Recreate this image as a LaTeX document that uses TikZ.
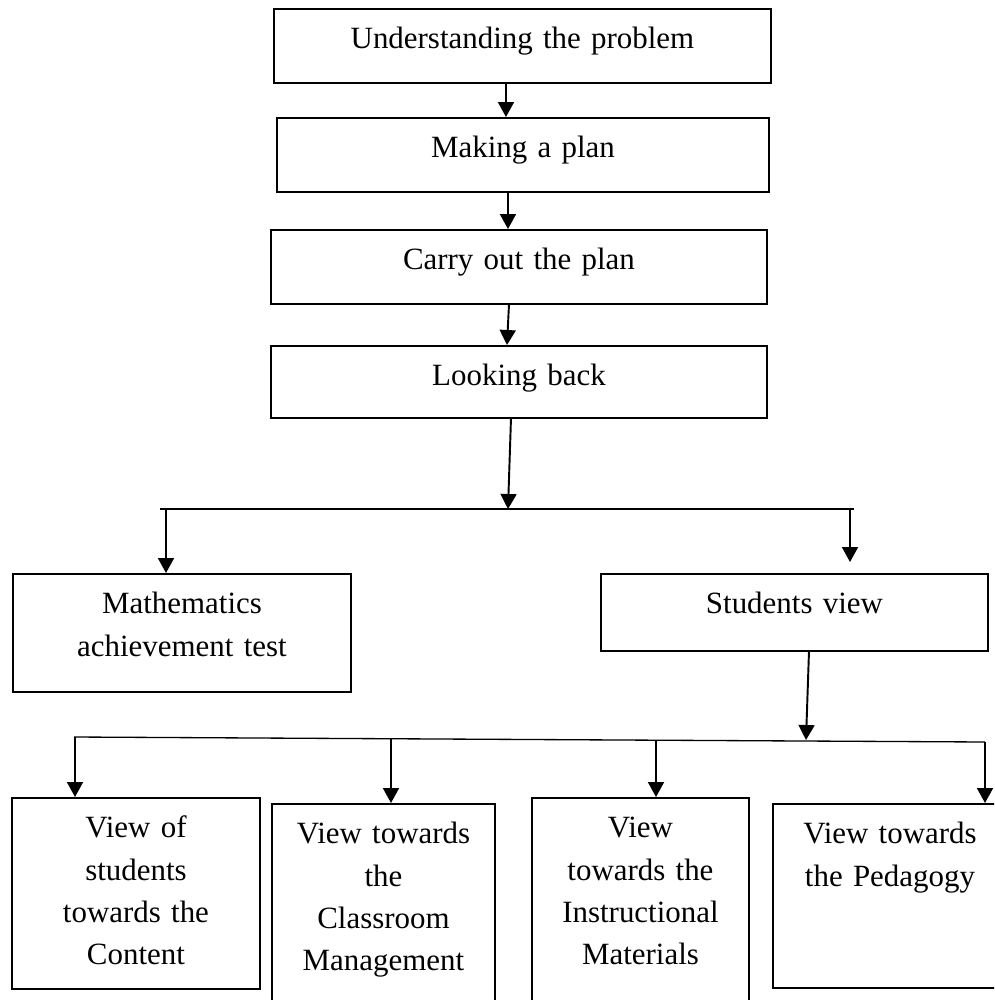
\documentclass[tikz,border=0pt]{standalone}
\usepackage{fontspec}
\setmainfont{Liberation Serif}
\usetikzlibrary{arrows.meta}
\tikzset{%
    blk/.style={draw,line width=1.1pt,inner sep=0pt,align=center,anchor=north west,
        text height=0.8cm,font=\fontsize{17.6}{24}\selectfont}
}

\begin{document}
\begin{tikzpicture}[
                arr/.style={line width=1.1pt,-{Triangle[width=0.32cm,length=0.3cm]}},
                bar/.style={line width=0.75pt}
            ]
            \useasboundingbox (0,0) rectangle (19.88,-20);
            \clip (0,0) rectangle (19.88,-20);

            \node[blk,text width=9.94cm,text depth=0.68cm] (und) at (5.46,-0.16) {Understanding the problem};
            \node[blk,text width=9.84cm,text depth=0.68cm] (mak) at (5.52,-2.34) {Making a plan};
            \node[blk,text width=9.92cm,text depth=0.68cm] (car) at (5.40,-4.58) {Carry out the plan};
            \node[blk,text width=9.92cm,text depth=0.64cm] (lok) at (5.40,-6.90) {Looking back};
            \node[blk,text width=6.76cm,text depth=1.56cm] (mat) at (0.24,-11.46) {Mathematics\\achievement test};
            \node[blk,text width=7.74cm,text depth=0.74cm] (stu) at (12.00,-11.46) {Students view};
            \node[blk,text width=4.96cm,text depth=3.02cm] (vc) at (0.22,-15.94) {View of\\students\\towards the\\Content};
            \node[blk,text width=4.46cm,text depth=3.34cm] (vm) at (5.42,-16.06) {View towards\\the\\Classroom\\Management};
            \node[blk,text width=4.34cm,text depth=3.46cm] (vi) at (10.62,-15.94) {View\\towards the\\Instructional\\Materials};
            \node[blk,text width=4.68cm,text depth=2.88cm] (vp) at (15.44,-16.06) {View towards\\the Pedagogy};

            \coordinate (l1) at (3.20,-10.18);
            \coordinate (r1) at (17.08,-10.18);
            \coordinate (j1) at (10.16,-10.18);
            \coordinate (d1) at (3.32,-10.18);
            \coordinate (d2) at (17.00,-10.18);
            \coordinate (e2) at (17.00,-11.24);
            \coordinate (l2) at (1.48,-14.74);
            \coordinate (r2) at (19.70,-14.84);
            \coordinate (j2) at (16.12,-14.80);
            \coordinate (d3) at (1.50,-14.74);
            \coordinate (d4) at (7.82,-14.77);
            \coordinate (d5) at (13.12,-14.80);
            \coordinate (d6) at (19.70,-14.84);

            \draw[arr] ([xshift=-0.33cm]und.south) -- ([xshift=-0.34cm]mak.north);
            \draw[arr] ([xshift=-0.30cm]mak.south) -- ([xshift=-0.22cm]car.north);
            \draw[arr] ([xshift=-0.20cm]car.south) -- ([xshift=-0.24cm]lok.north);
            \draw[arr] ([xshift=-0.16cm]lok.south) -- (j1);
            \draw[bar] (l1) -- (r1);
            \draw[arr] (d1) -- (d1 |- mat.north);
            \draw[arr] (d2) -- (e2);
            \draw[arr] ([xshift=0.29cm]stu.south) -- (j2);
            \draw[bar] (l2) -- (r2);
            \draw[arr] (d3) -- (d3 |- vc.north);
            \draw[arr] (d4) -- (d4 |- vm.north);
            \draw[arr] (d5) -- (d5 |- vi.north);
            \draw[arr] (d6) -- (d6 |- vp.north);
        \end{tikzpicture}
\end{document}
